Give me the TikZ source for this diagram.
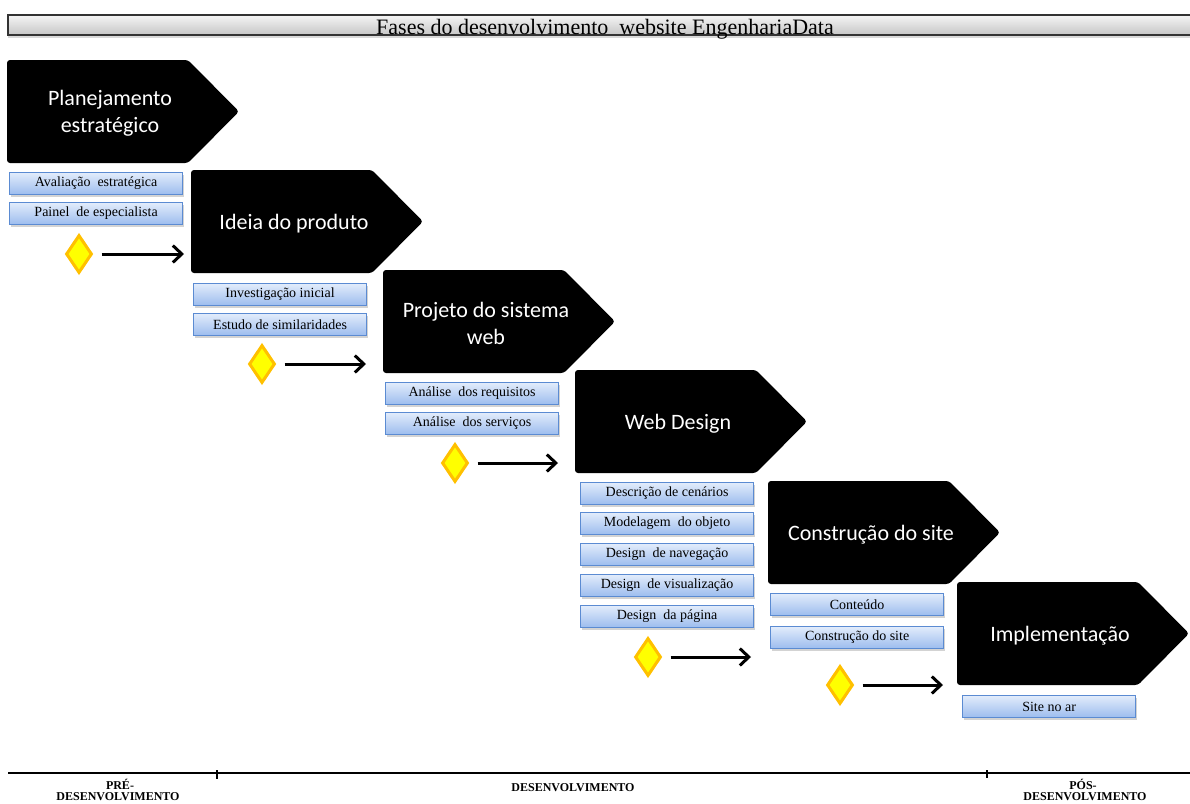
\documentclass[tikz,border=0pt]{standalone}
\usepackage{fontspec}
\setmainfont{Liberation Serif}
\newfontfamily\calibri{Carlito}
\usetikzlibrary{arrows.meta,shapes.geometric,shadows,calc}

\definecolor{boxtop}{HTML}{E2ECFB}
\definecolor{boxbot}{HTML}{9CBCEE}
\definecolor{boxline}{HTML}{5B8BD2}
\definecolor{gemfill}{HTML}{FFFF00}
\definecolor{gemline}{HTML}{FFC000}
\definecolor{barline}{HTML}{333333}

% black pentagon arrow for one phase: name, left x, top y, label
\newcommand{\phasebox}[4]{%
  \fill[phase] (#2,#3) -- ++(181,0) -- ++(51,51.5) -- ++(-51,51.5) -- ++(-181,0) -- cycle;
  \node[phasetext] (#1) at (#2+103,#3+53.5) {#4};
}

\begin{document}
\begin{tikzpicture}[x=1pt,y=-1pt,
  phase/.style={fill=black, rounded corners=3pt},
  phasetext/.style={text=white, font=\calibri\fontsize{22}{27}\selectfont, align=center, inner sep=0pt},
  task/.style={draw=boxline, line width=1.2pt, top color=boxtop, bottom color=boxbot,
    minimum width=173pt, minimum height=22pt, inner sep=0pt, anchor=north west,
    font=\fontsize{14}{15}\selectfont,
    drop shadow={shadow xshift=1.5pt, shadow yshift=-2pt, opacity=0.35, fill=gray}},
  gate/.style={diamond, fill=gemfill, draw=gemline, line width=3pt,
    minimum width=26pt, minimum height=38pt, inner sep=0pt},
  flow/.style={line width=3pt, -{Straight Barb[length=9pt,width=17pt]}, shorten <=8pt},
  stage/.style={font=\bfseries\fontsize{12}{15}\selectfont, inner sep=0pt},
  titlebar/.style={draw=barline, line width=2pt, top color=white!92!gray, bottom color=gray!45,
    drop shadow={shadow xshift=0pt, shadow yshift=-3pt, opacity=0.3, fill=gray}}
]
\useasboundingbox (0,0) rectangle (1190,803);

% title bar
\path[titlebar] (8,15) rectangle (1196,35);
\node[anchor=base, inner sep=0pt, font=\fontsize{22}{24}\selectfont] (title) at (605,34)
  {Fases do desenvolvimento~ website EngenhariaData};

% phases
\phasebox{p1}{7}{60}{Planejamento\\estratégico}
\phasebox{p2}{191}{170}{Ideia do produto}
\phasebox{p3}{383}{270}{Projeto do sistema\\web}
\phasebox{p4}{575}{370}{Web Design}
\phasebox{p5}{768}{481}{Construção do site}
\phasebox{p6}{957}{582}{Implementação}

% activities of each phase
\node[task] (t11) at (9,172) {Avaliação~ estratégica};
\node[task] (t12) at (9,202) {Painel~ de especialista};

\node[task] (t21) at (193,283) {Investigação inicial};
\node[task] (t22) at (193,313) {Estudo de similaridades};

\node[task] (t31) at (385,382) {Análise~ dos requisitos};
\node[task] (t32) at (385,412) {Análise~ dos serviços};

\node[task] (t41) at (580,482) {Descrição de cenários};
\node[task] (t42) at (580,512) {Modelagem~ do objeto};
\node[task] (t43) at (580,543) {Design~ de navegação};
\node[task] (t44) at (580,574) {Design~ de visualização};
\node[task] (t45) at (580,605) {Design~ da página};

\node[task] (t51) at (770,593) {Conteúdo};
\node[task] (t52) at (770,626) {Construção do site};

\node[task] (t61) at (962,695) {Site no ar};

% milestones and hand-over arrows
\node[gate] (g1) at (79,254) {};
\node[gate] (g2) at (262,364) {};
\node[gate] (g3) at (455,463) {};
\node[gate] (g4) at (648,657) {};
\node[gate] (g5) at (840,685) {};

\coordinate (e1) at (184,254);
\coordinate (e2) at (366,364);
\coordinate (e3) at (558,463);
\coordinate (e4) at (751,657);
\coordinate (e5) at (943,685);

\draw[flow] (g1) -- (e1);
\draw[flow] (g2) -- (e2);
\draw[flow] (g3) -- (e3);
\draw[flow] (g4) -- (e4);
\draw[flow] (g5) -- (e5);

% timeline
\coordinate (tl) at (8,773);
\coordinate (tr) at (1190,773);
\coordinate (k1) at (217,773);
\coordinate (k2) at (987,773);
\draw[line width=1.5pt] (tl) -- (tr);
\draw[line width=1.2pt] ([yshift=3pt]k1) -- ([yshift=-6pt]k1);
\draw[line width=1.2pt] ([yshift=3pt]k2) -- ([yshift=-5pt]k2);

\node[stage] (pre1) at (120,784) {PRÉ-};
\node[stage] (pre2) at (118,796.5) {DESENVOLVIMENTO};
\node[stage] (dev)  at (573,788) {DESENVOLVIMENTO};
\node[stage] (pos1) at (1083,784) {PÓS-};
\node[stage] (pos2) at (1085,796.5) {DESENVOLVIMENTO};
\end{tikzpicture}
\end{document}
